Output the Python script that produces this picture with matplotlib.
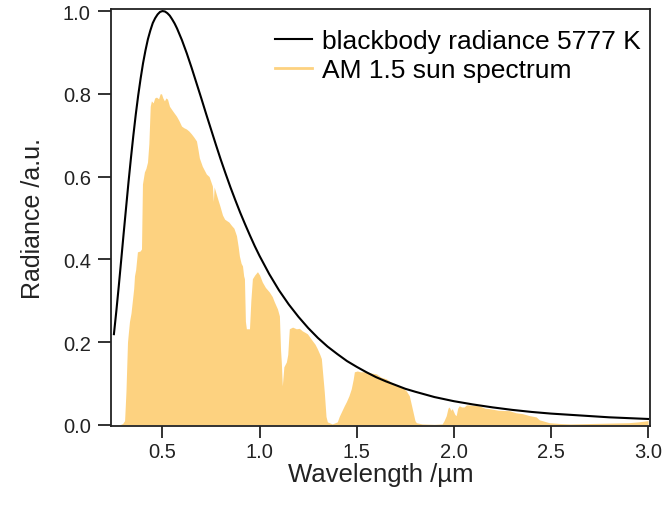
import matplotlib
matplotlib.use("Agg")
import matplotlib.pyplot as plt
from matplotlib.lines import Line2D

plt.rcParams["font.family"] = ["Liberation Sans", "DejaVu Sans"]

# blackbody radiance at 5777 K, normalised
bb_wl = [0.25, 0.2625, 0.275, 0.2875, 0.30, 0.3125, 0.325, 0.3375, 0.35, 0.3625,
         0.375, 0.3875, 0.40, 0.4125, 0.425, 0.4375, 0.45, 0.4625, 0.475, 0.4875,
         0.50, 0.5125, 0.525, 0.5375, 0.55, 0.5625, 0.575, 0.5875, 0.60, 0.625,
         0.65, 0.675, 0.70, 0.725, 0.75, 0.775, 0.80, 0.825, 0.85, 0.875, 0.90,
         0.925, 0.95, 0.975, 1.0, 1.05, 1.1, 1.15, 1.2, 1.25, 1.3, 1.35, 1.4,
         1.45, 1.5, 1.55, 1.6, 1.65, 1.7, 1.75, 1.8, 1.9, 2.0, 2.1, 2.2,
         2.3, 2.4, 2.5, 2.6, 2.7, 2.8, 2.9, 3.0]
bb_rad = [0.219, 0.275, 0.335, 0.398, 0.462, 0.524, 0.586, 0.644, 0.699, 0.750,
          0.796, 0.837, 0.874, 0.905, 0.932, 0.953, 0.971, 0.983, 0.992, 0.998,
          1.000, 0.999, 0.995, 0.989, 0.980, 0.970, 0.958, 0.944, 0.930, 0.898,
          0.863, 0.826, 0.789, 0.751, 0.714, 0.677, 0.641, 0.607, 0.574, 0.543, 0.513,
          0.485, 0.458, 0.432, 0.408, 0.364, 0.325, 0.291, 0.261, 0.234, 0.210, 0.189, 0.171,
          0.154, 0.140, 0.127, 0.115, 0.105, 0.096, 0.087, 0.080, 0.067, 0.057,
          0.049, 0.042, 0.036, 0.031, 0.027, 0.024, 0.021, 0.018, 0.016, 0.014]

# AM 1.5 spectrum
am_wl = [0.280, 0.295, 0.305, 0.312, 0.320, 0.325, 0.330, 0.338, 0.346, 0.352,
         0.356, 0.362, 0.371, 0.385, 0.392, 0.397, 0.407, 0.415, 0.423, 0.430,
         0.437, 0.443, 0.452, 0.460, 0.469, 0.480, 0.488, 0.495, 0.502, 0.510,
         0.518, 0.526, 0.536, 0.546, 0.558, 0.572, 0.585, 0.598, 0.610, 0.623,
         0.636, 0.649, 0.662, 0.675, 0.683, 0.690, 0.705, 0.726, 0.740, 0.757,
         0.762, 0.766, 0.783, 0.795, 0.809, 0.820, 0.829, 0.842, 0.855, 0.868,
         0.881, 0.890, 0.896, 0.905, 0.912, 0.918, 0.922, 0.927, 0.932, 0.948,
         0.955, 0.963, 0.975, 0.989, 1.000, 1.014, 1.030, 1.050, 1.065, 1.076,
         1.092, 1.102, 1.108, 1.112, 1.117, 1.125, 1.138, 1.145, 1.153, 1.170,
         1.189, 1.205, 1.220, 1.246, 1.272, 1.285, 1.297, 1.310, 1.318, 1.333,
         1.342, 1.349, 1.374, 1.400, 1.410, 1.421, 1.435, 1.447, 1.460, 1.472,
         1.482, 1.488, 1.503, 1.520, 1.549, 1.575, 1.601, 1.625, 1.652, 1.668,
         1.690, 1.719, 1.740, 1.755, 1.771, 1.786, 1.800, 1.807, 1.837, 1.900,
         1.940, 1.950, 1.961, 1.970, 1.976, 1.985, 1.992, 2.005, 2.012, 2.020,
         2.028, 2.040, 2.053, 2.065, 2.079, 2.100, 2.131, 2.160, 2.182, 2.230,
         2.285, 2.320, 2.352, 2.390, 2.424, 2.440, 2.455, 2.491, 2.550, 2.600,
         2.700, 2.800, 2.900, 2.950, 3.000]
am_rad = [0.000, 0.003, 0.010, 0.080, 0.200, 0.225, 0.249, 0.270, 0.304, 0.330,
          0.360, 0.375, 0.418, 0.420, 0.425, 0.582, 0.611, 0.620, 0.635, 0.680,
          0.770, 0.783, 0.778, 0.790, 0.792, 0.788, 0.800, 0.800, 0.790, 0.783,
          0.790, 0.787, 0.770, 0.763, 0.755, 0.746, 0.735, 0.722, 0.718, 0.715,
          0.710, 0.703, 0.695, 0.686, 0.665, 0.645, 0.625, 0.606, 0.600, 0.577,
          0.540, 0.575, 0.548, 0.530, 0.507, 0.497, 0.494, 0.490, 0.482, 0.475,
          0.457, 0.430, 0.408, 0.390, 0.384, 0.360, 0.353, 0.250, 0.232, 0.232,
          0.300, 0.353, 0.362, 0.370, 0.362, 0.345, 0.332, 0.321, 0.310, 0.297,
          0.280, 0.263, 0.180, 0.150, 0.094, 0.140, 0.152, 0.170, 0.232, 0.236,
          0.232, 0.233, 0.227, 0.220, 0.203, 0.195, 0.184, 0.170, 0.160, 0.080,
          0.020, 0.007, 0.002, 0.007, 0.020, 0.031, 0.045, 0.056, 0.070, 0.087,
          0.110, 0.128, 0.130, 0.128, 0.128, 0.125, 0.123, 0.115, 0.111, 0.106,
          0.098, 0.094, 0.088, 0.082, 0.070, 0.039, 0.010, 0.005, 0.002, 0.001,
          0.002, 0.010, 0.022, 0.040, 0.043, 0.035, 0.039, 0.025, 0.022, 0.040,
          0.046, 0.043, 0.043, 0.048, 0.048, 0.047, 0.046, 0.040, 0.039, 0.035,
          0.034, 0.029, 0.027, 0.022, 0.019, 0.012, 0.010, 0.005, 0.003, 0.002,
          0.003, 0.004, 0.005, 0.007, 0.010]

orange = "#FDD280"
edge = "#222222"

fig = plt.figure(figsize=(6.63, 5.06), dpi=100)
ax = fig.add_axes([111 / 663, 1 - 427 / 506, 539 / 663, 417 / 506])

ax.fill_between(am_wl, 0, am_rad, color=orange, linewidth=0)
ax.plot(bb_wl, bb_rad, color="black", lw=1.5)

ax.set_xlim(0.235, 3.01)
ax.set_ylim(-0.003, 1.005)
ax.set_xticks([0.5, 1.0, 1.5, 2.0, 2.5, 3.0])
ax.set_yticks([0.0, 0.2, 0.4, 0.6, 0.8, 1.0])
ax.set_xticklabels(["0.5", "1.0", "1.5", "2.0", "2.5", "3.0"])
ax.set_yticklabels(["0.0", "0.2", "0.4", "0.6", "0.8", "1.0"])

for s in ax.spines.values():
    s.set_linewidth(1.3)
    s.set_color(edge)
ax.tick_params(axis="both", direction="out", width=1.3, color=edge,
               labelsize=14.5, labelcolor="#222222")
ax.tick_params(axis="y", length=9.5, pad=5)
ax.tick_params(axis="x", length=8.5, pad=3)

ax.set_xlabel("Wavelength /\u00b5m", fontsize=18.5, color="#222222", labelpad=1)
ax.set_ylabel("Radiance /a.u.", fontsize=18, color="#222222", labelpad=13)

handles = [Line2D([], [], color="black", lw=1.5),
           Line2D([], [], color=orange, lw=2)]
ax.legend(handles, ["blackbody radiance 5777 K", "AM 1.5 sun spectrum"],
          loc="upper right", bbox_to_anchor=(1.0 + 11 / 539, 1.0),
          frameon=False, fontsize=19,
          handlelength=1.4, handletextpad=0.4, labelspacing=0.2,
          borderaxespad=0.45, borderpad=0.3)

fig.savefig("out.png", dpi=100)
